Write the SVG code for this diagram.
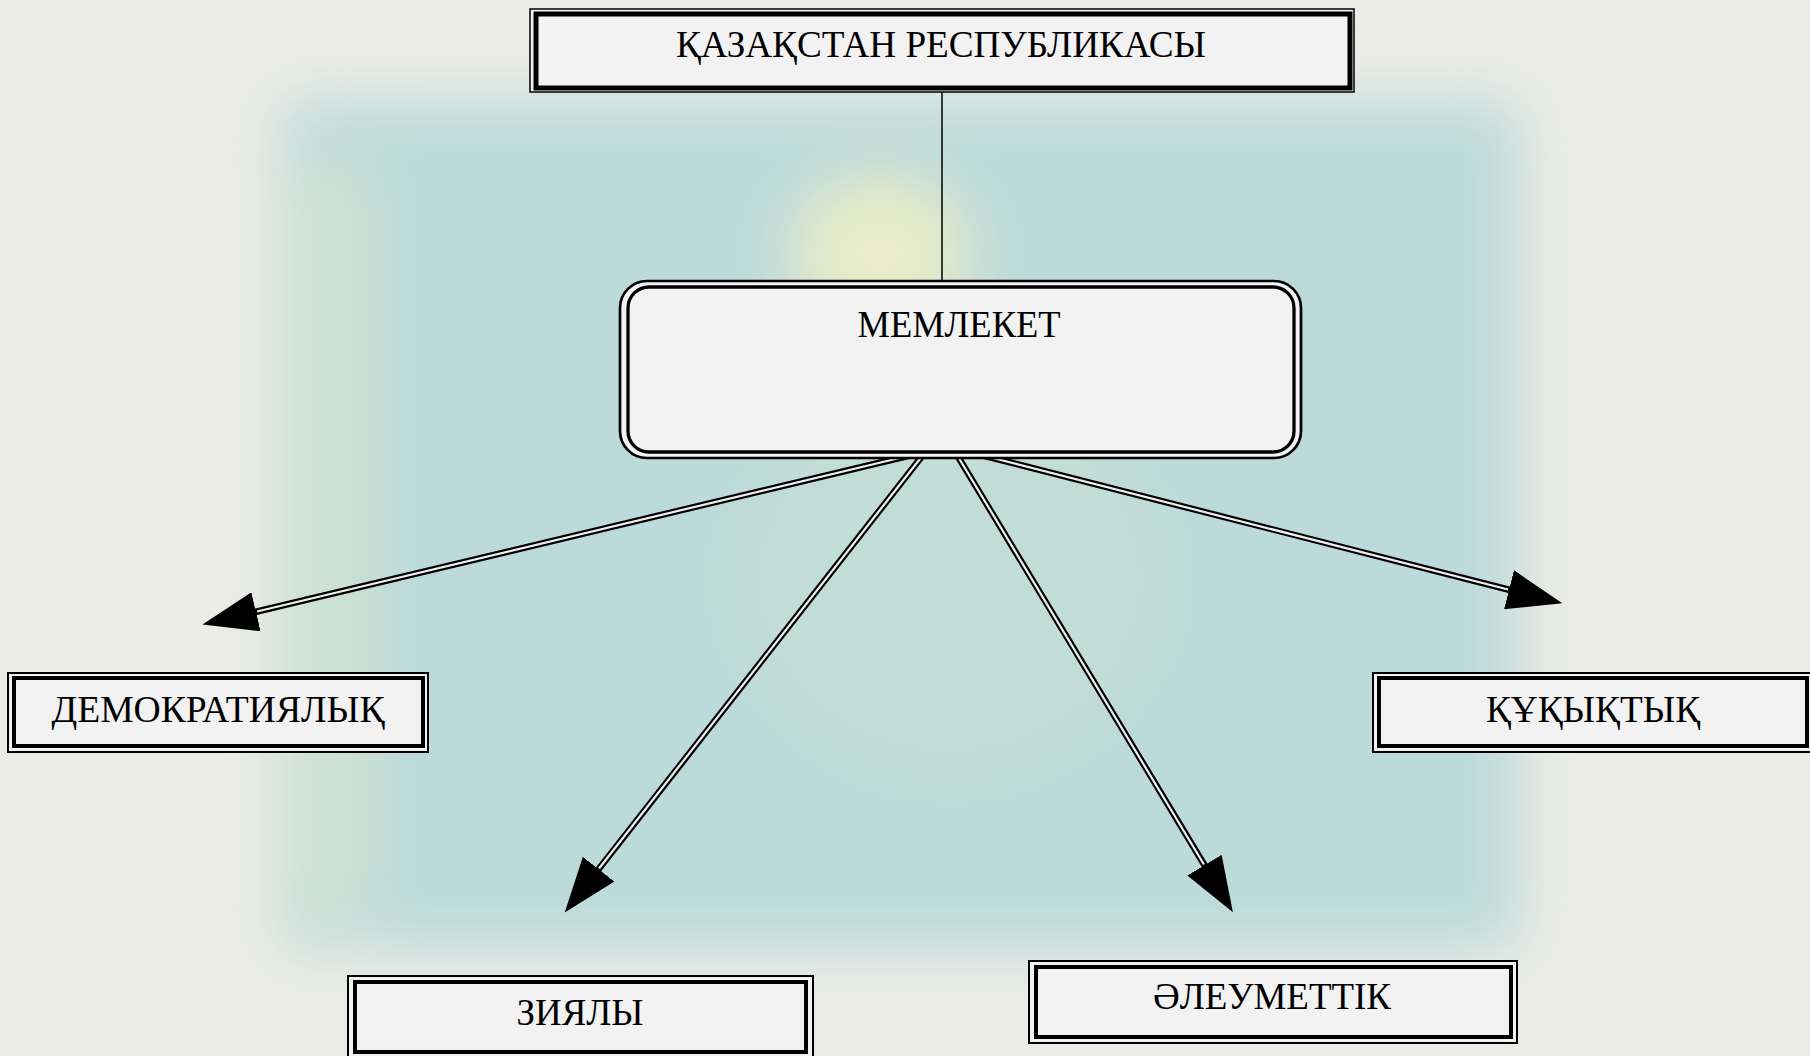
<svg xmlns="http://www.w3.org/2000/svg" width="1810" height="1056" viewBox="0 0 1810 1056">
<defs>
<filter id="blur" x="-20%" y="-20%" width="140%" height="140%"><feGaussianBlur stdDeviation="30"/></filter>
<marker id="ah" viewBox="0 0 55 40" refX="1" refY="20" markerWidth="55" markerHeight="40" markerUnits="userSpaceOnUse" orient="auto"><path d="M0,0 L55,20 L0,40 z" fill="#000"/></marker>
<style>
.o{fill:#f2f2f2;stroke:#000;stroke-width:2}
.i{fill:#f2f2f2;stroke:#000;stroke-width:4}
.t{font-family:"Liberation Serif","Times New Roman",serif;font-size:38px;fill:#000;text-anchor:middle}
.cb{stroke:#000;stroke-width:6.5;fill:none}
.cw{stroke:#f0f0f0;stroke-width:2.2;fill:none}
</style>
</defs>
<g id="background">
<rect x="0" y="0" width="1810" height="1056" fill="#ecece6"/>
<g filter="url(#blur)">
<rect x="280" y="100" width="1240" height="850" fill="#bcdada"/>
<rect x="300" y="160" width="70" height="760" fill="#cfe2d2"/>
<ellipse cx="880" cy="255" rx="90" ry="80" fill="#e8ecc8"/>
<ellipse cx="950" cy="580" rx="220" ry="200" fill="#c2dcd6"/>
</g>
</g>
<g id="connectors">
<line x1="942" y1="92" x2="942" y2="281" stroke="#000" stroke-width="1.5"/>
<line class="cb" x1="912" y1="455" x2="255" y2="612" marker-end="url(#ah)"/>
<line class="cw" x1="912" y1="455" x2="257" y2="611.5"/>
<line class="cb" x1="923" y1="455" x2="598" y2="870" marker-end="url(#ah)"/>
<line class="cw" x1="923" y1="455" x2="599" y2="868.5"/>
<line class="cb" x1="957" y1="455" x2="1205" y2="866" marker-end="url(#ah)"/>
<line class="cw" x1="957" y1="455" x2="1204" y2="864.5"/>
<line class="cb" x1="981" y1="455" x2="1510" y2="590" marker-end="url(#ah)"/>
<line class="cw" x1="981" y1="455" x2="1508" y2="589.5"/>
</g>
<g id="node-kazakhstan">
<rect x="530" y="9" width="824" height="83" fill="#f2f2f2" stroke="#000" stroke-width="1.5"/>
<rect x="536" y="14" width="814" height="74" fill="#f2f2f2" stroke="#000" stroke-width="5"/>
<text class="t" x="941" y="57" textLength="530" lengthAdjust="spacingAndGlyphs">ҚАЗАҚСТАН РЕСПУБЛИКАСЫ</text>
</g>
<g id="node-memleket">
<rect x="620" y="281" width="681" height="177" rx="27" fill="#f2f2f2" stroke="#000" stroke-width="2.7"/>
<rect x="628" y="287" width="666" height="165" rx="21" fill="#f2f2f2" stroke="#000" stroke-width="3.3"/>
<text class="t" x="959" y="337" textLength="203" lengthAdjust="spacingAndGlyphs">МЕМЛЕКЕТ</text>
</g>
<g id="node-demokratiyalyk">
<rect class="o" x="8" y="673" width="420" height="79"/>
<rect class="i" x="14" y="678" width="409" height="68"/>
<text class="t" x="218" y="722" textLength="333" lengthAdjust="spacingAndGlyphs">ДЕМОКРАТИЯЛЫҚ</text>
</g>
<g id="node-kukyktyk">
<rect class="o" x="1373" y="673" width="445" height="79"/>
<rect class="i" x="1379" y="678" width="428" height="68"/>
<text class="t" x="1593" y="722" textLength="214" lengthAdjust="spacingAndGlyphs">ҚҰҚЫҚТЫҚ</text>
</g>
<g id="node-ziyaly">
<rect class="o" x="348" y="976" width="465" height="90"/>
<rect class="i" x="355" y="982" width="451" height="70"/>
<text class="t" x="580" y="1025" textLength="127" lengthAdjust="spacingAndGlyphs">ЗИЯЛЫ</text>
</g>
<g id="node-aleumettik">
<rect class="o" x="1029" y="961" width="488" height="82"/>
<rect class="i" x="1036" y="967" width="475" height="70"/>
<text class="t" x="1272" y="1009" textLength="238" lengthAdjust="spacingAndGlyphs">ӘЛЕУМЕТТІК</text>
</g>
</svg>
